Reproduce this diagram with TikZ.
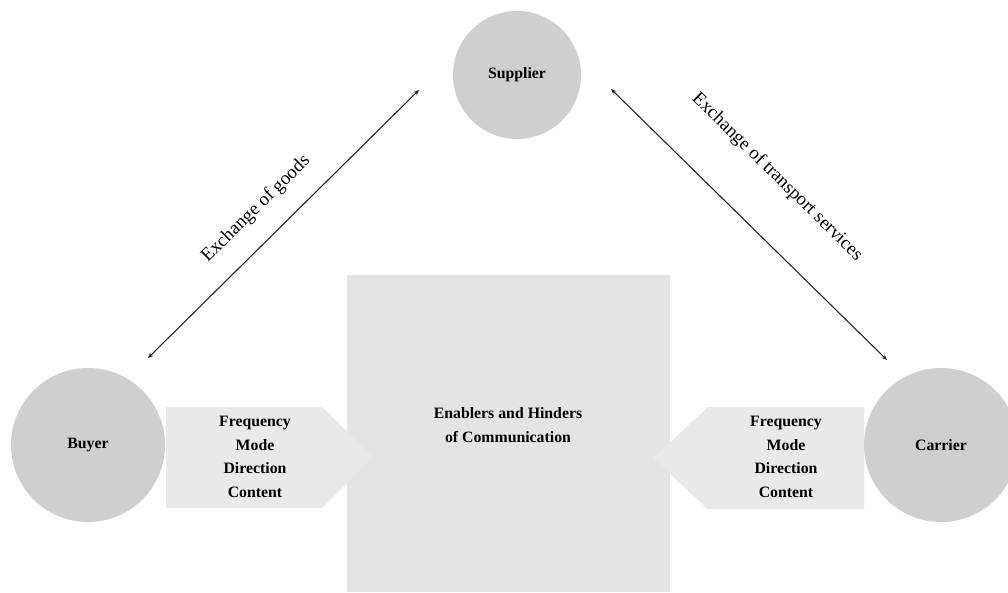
\documentclass[tikz,border=0pt]{standalone}
\usepackage{fontspec}
\setmainfont{Liberation Serif}
\usetikzlibrary{arrows.meta}
\definecolor{circgray}{HTML}{CFCFCF}
\definecolor{boxgray}{HTML}{E4E4E4}
\definecolor{arrgray}{HTML}{E9E9E9}
\tikzset{
  party/.style={circle, fill=circgray, inner sep=0pt, minimum size=154pt,
    font=\fontsize{15.8pt}{19pt}\selectfont\bfseries},
  flowshape/.style={fill=arrgray, draw=none},
  flowtext/.style={align=center, font=\fontsize{15.8pt}{23.5pt}\selectfont\bfseries},
  exchange/.style={draw=black!85, line width=1.1pt,
    {Stealth[length=5.5pt,width=4.5pt]}-{Stealth[length=5.5pt,width=4.5pt]}},
  exlabel/.style={font=\fontsize{18.8pt}{22pt}\selectfont}
}
\begin{document}
\begin{tikzpicture}[x=1pt,y=-1pt]
\useasboundingbox (0,0) rectangle (1008,592);
\fill[white] (0,0) rectangle (1008,592);

% central box
\fill[boxgray] (347,275) rectangle (670,592);
\node[flowtext, font=\fontsize{15.8pt}{24pt}\selectfont\bfseries] (core) at (508,425)
  {Enablers and Hinders\\of Communication};

% pentagon arrows feeding into the box
\fill[flowshape] (166,407) -- (322,407) -- (373,457.5) -- (322,508) -- (166,508) -- cycle;
\fill[flowshape] (864,407) -- (708,407) -- (653,458) -- (708,509) -- (864,509) -- cycle;
\node[flowtext] (leftflow) at (255,457) {Frequency\\Mode\\Direction\\Content};
\node[flowtext] (rightflow) at (786,457) {Frequency\\Mode\\Direction\\Content};

% actors
\node[party, minimum size=128pt] (supplier) at (517,75) {Supplier};
\node[party] (buyer) at (88,445) {Buyer};
\node[party] (carrier) at (941,445) {Carrier};

% exchange relations
\coordinate (bEnd) at (148,358);
\coordinate (sLeft) at (419,90);
\coordinate (sRight) at (611,89);
\coordinate (cEnd) at (887,360);
\draw[exchange] (bEnd) -- (sLeft);
\draw[exchange] (sRight) -- (cEnd);
\node[exlabel, rotate=44.5] (goods) at (256,209) {Exchange of goods};
\node[exlabel, rotate=-44.5] (transport) at (777,177) {Exchange of transport services};
\end{tikzpicture}
\end{document}
